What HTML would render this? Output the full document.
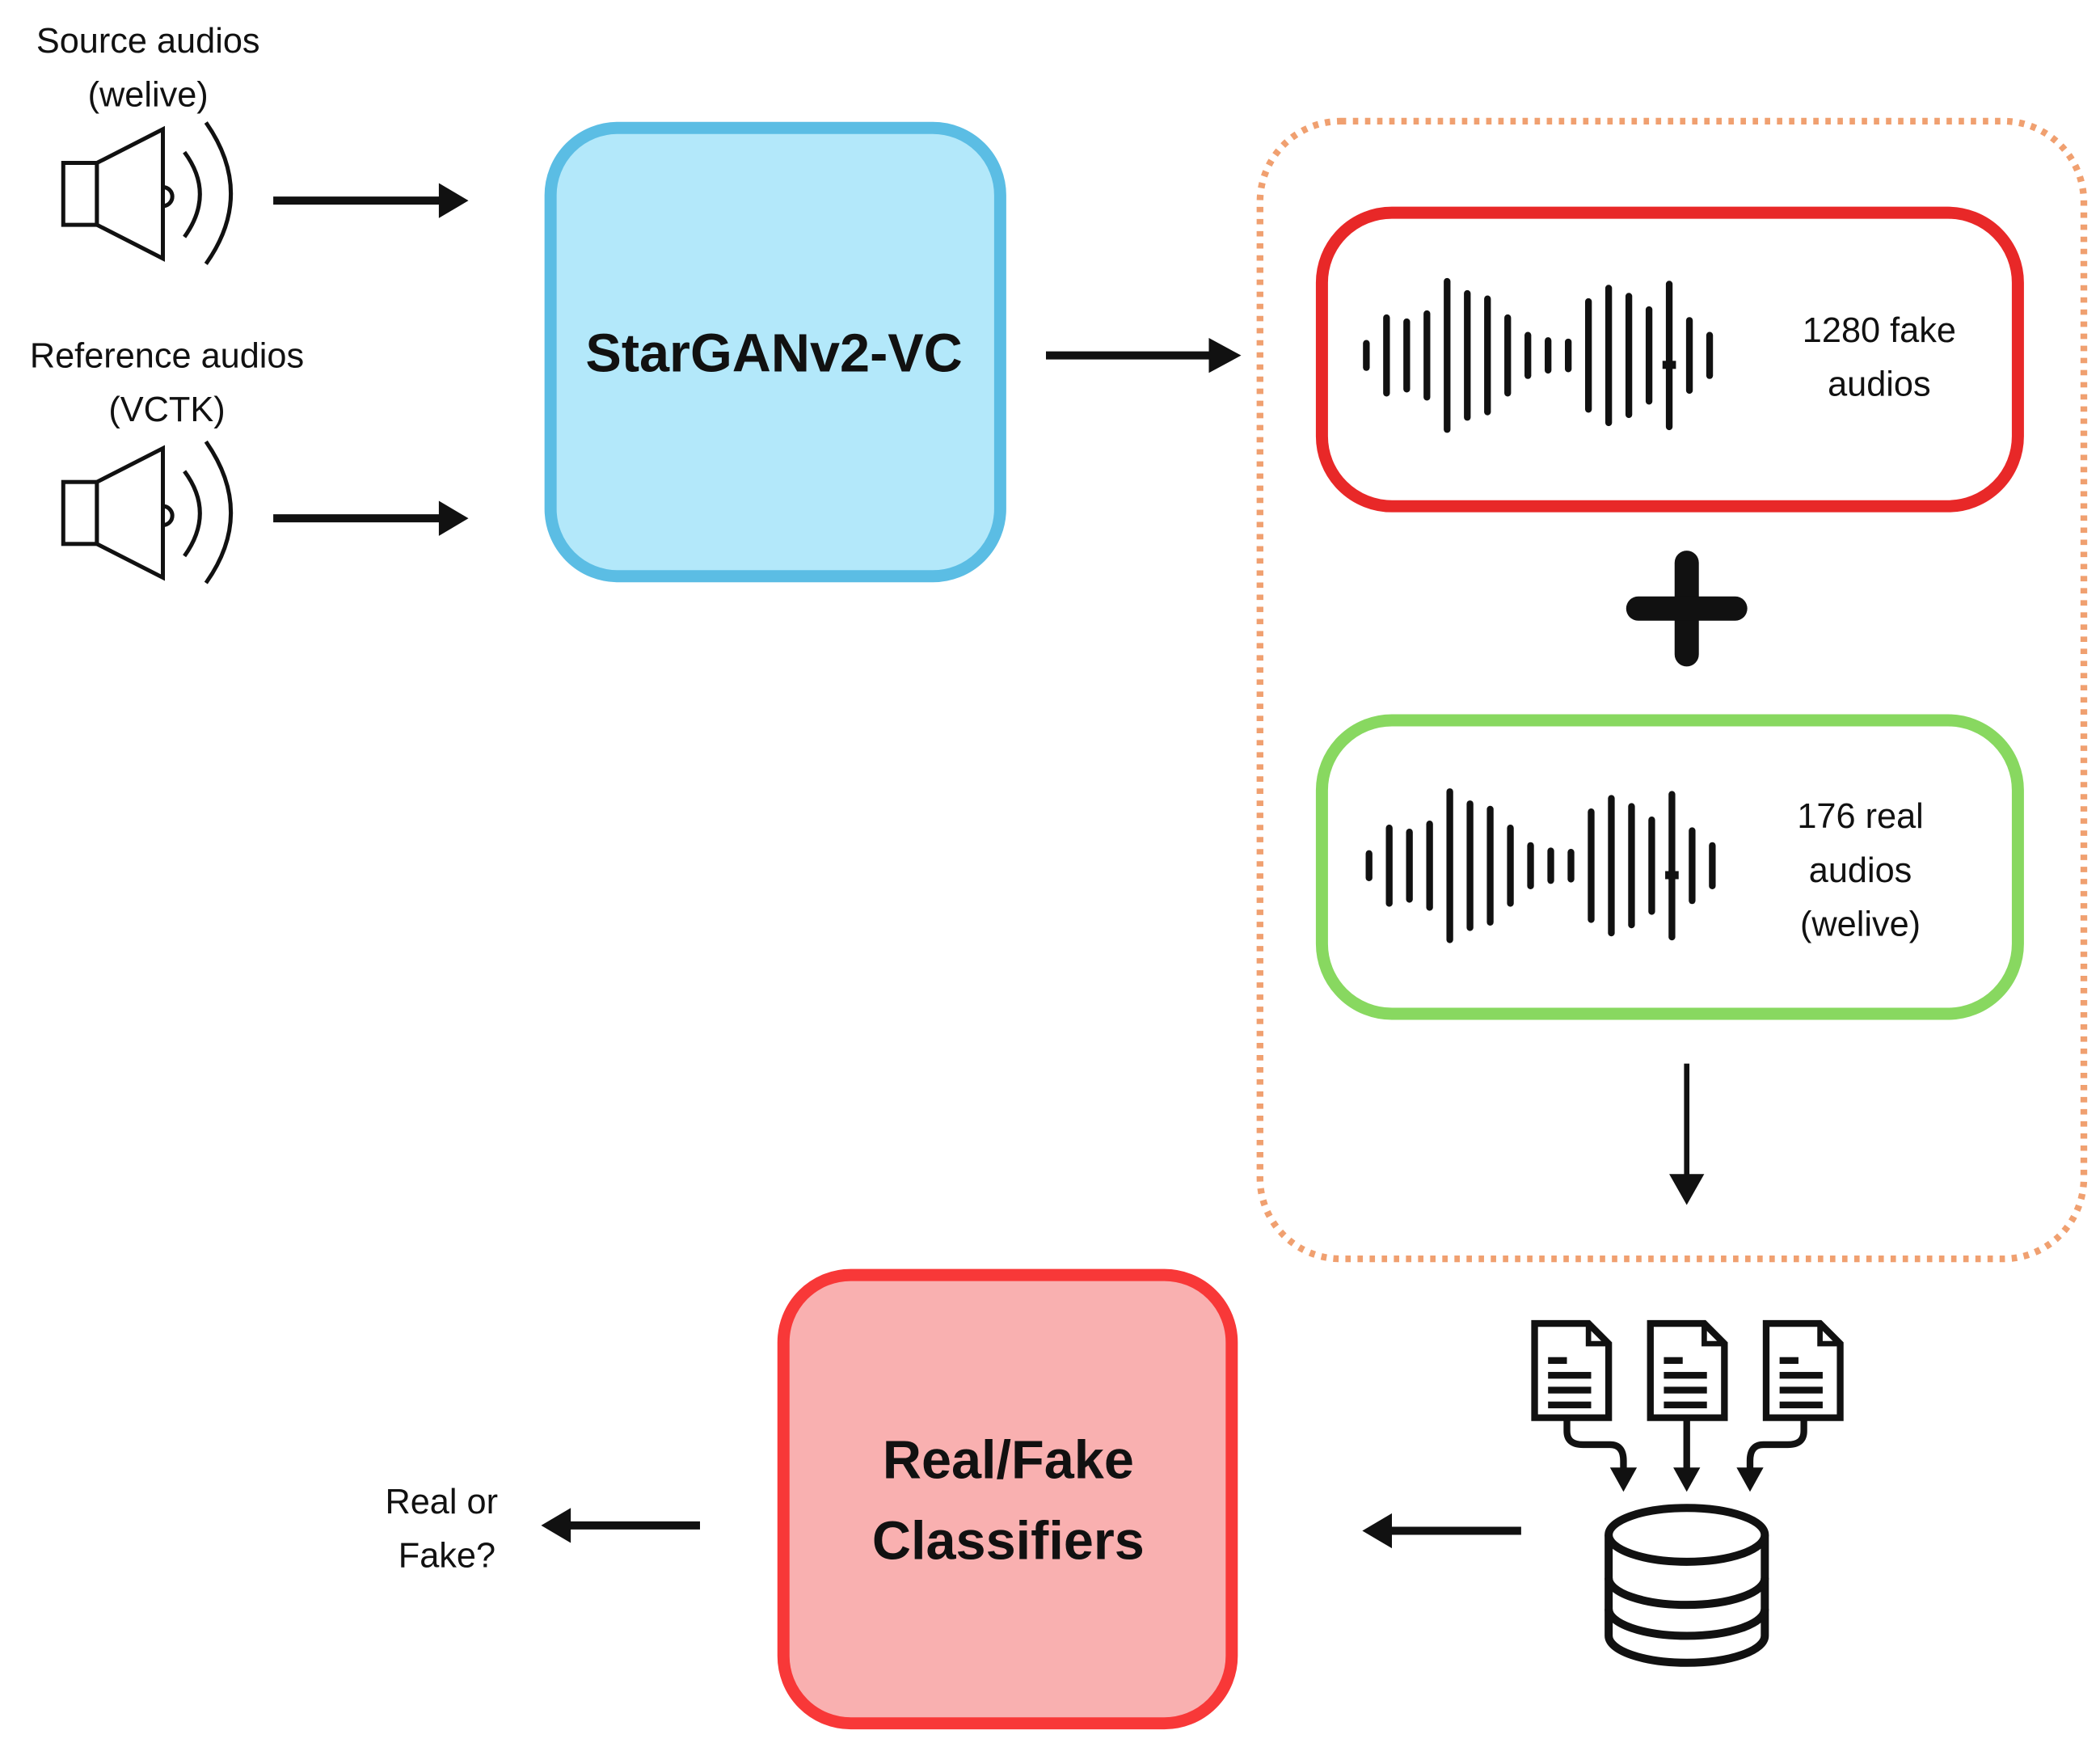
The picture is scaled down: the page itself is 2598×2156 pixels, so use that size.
<!DOCTYPE html>
<html><head><meta charset="utf-8"><style>
html,body{margin:0;padding:0;background:#fff;}
svg{display:block;}
text{font-family:"Liberation Sans",Arial,sans-serif;fill:#111;}
</style></head><body>
<svg width="2598" height="2156" viewBox="0 0 1560 1294.6" preserveAspectRatio="none" xmlns="http://www.w3.org/2000/svg">
<defs>
<g id="spk" fill="none" stroke="#111" stroke-width="3">
<rect x="47" y="-25" width="25" height="46" fill="#fff"/>
<path d="M72 -25 L121 -50 L121 46 L72 21 Z" fill="#fff"/>
<path d="M121 -7 a7 7 0 0 1 0 14"/>
<path d="M137 -33 Q160 -2 137 30"/>
<path d="M153 -55 Q190 -2 153 50"/>
</g>
<g id="wave" stroke="#111" stroke-width="5" stroke-linecap="round">
<line x1="0" y1="-9" x2="0" y2="9"/>
<line x1="15" y1="-28" x2="15" y2="28"/>
<line x1="30" y1="-25" x2="30" y2="25"/>
<line x1="45" y1="-31" x2="45" y2="31"/>
<line x1="60" y1="-55" x2="60" y2="55"/>
<line x1="75" y1="-46" x2="75" y2="46"/>
<line x1="90" y1="-42" x2="90" y2="42"/>
<line x1="105" y1="-28" x2="105" y2="28"/>
<line x1="120" y1="-15" x2="120" y2="15"/>
<line x1="135" y1="-11" x2="135" y2="11"/>
<line x1="150" y1="-10" x2="150" y2="10"/>
<line x1="165" y1="-40" x2="165" y2="40"/>
<line x1="180" y1="-50" x2="180" y2="50"/>
<line x1="195" y1="-44" x2="195" y2="44"/>
<line x1="210" y1="-34" x2="210" y2="34"/>
<line x1="225" y1="-53" x2="225" y2="53"/>
<line x1="240" y1="-26" x2="240" y2="26"/>
<line x1="255" y1="-15" x2="255" y2="15"/>
<rect x="220" y="4" width="10" height="6" fill="#111" stroke="none"/>
</g>
<g id="doc">
<path d="M0 0 H40 L55 15 V70 H0 Z" fill="#fff" stroke="#111" stroke-width="5"/>
<path d="M40 0 V15 H55" fill="none" stroke="#111" stroke-width="4"/>
<g fill="#111"><rect x="10" y="25" width="14" height="5"/><rect x="10" y="36" width="32" height="5"/><rect x="10" y="47" width="32" height="5"/><rect x="10" y="58" width="32" height="5"/></g>
</g>
</defs>

<text x="110" y="39" font-size="26" text-anchor="middle">Source audios</text>
<text x="110" y="79" font-size="26" text-anchor="middle">(welive)</text>
<use href="#spk" transform="translate(0,146)"/>
<line x1="203" y1="149" x2="330" y2="149" stroke="#111" stroke-width="6"/>
<path d="M326 136 L348 149 L326 162 Z" fill="#111"/>

<text x="124" y="273" font-size="26" text-anchor="middle">Reference audios</text>
<text x="124" y="313" font-size="26" text-anchor="middle">(VCTK)</text>
<use href="#spk" transform="translate(0,383)"/>
<line x1="203" y1="385" x2="330" y2="385" stroke="#111" stroke-width="6"/>
<path d="M326 372 L348 385 L326 398 Z" fill="#111"/>

<rect x="409" y="95" width="334" height="333" rx="50" fill="#b3e8fa" stroke="#5bbde4" stroke-width="9"/>
<text x="575" y="276" font-size="40" font-weight="bold" text-anchor="middle">StarGANv2-VC</text>
<line x1="777" y1="264" x2="902" y2="264" stroke="#111" stroke-width="6"/>
<path d="M898 251 L922 264 L898 277 Z" fill="#111"/>

<rect x="936" y="90" width="612" height="845" rx="60" fill="none" stroke="#f0a070" stroke-width="5" stroke-dasharray="4 5"/>

<rect x="982" y="158" width="517" height="218" rx="52" fill="#fff" stroke="#e82828" stroke-width="9"/>
<use href="#wave" transform="translate(1015,264)"/>
<text x="1396" y="254" font-size="26" text-anchor="middle">1280 fake</text>
<text x="1396" y="294" font-size="26" text-anchor="middle">audios</text>

<line x1="1253" y1="418" x2="1253" y2="486" stroke="#111" stroke-width="18" stroke-linecap="round"/>
<line x1="1217" y1="452" x2="1289" y2="452" stroke="#111" stroke-width="18" stroke-linecap="round"/>

<rect x="982" y="535" width="517" height="218" rx="52" fill="#fff" stroke="#88d860" stroke-width="9"/>
<use href="#wave" transform="translate(1017,643)"/>
<text x="1382" y="615" font-size="26" text-anchor="middle">176 real</text>
<text x="1382" y="655" font-size="26" text-anchor="middle">audios</text>
<text x="1382" y="695" font-size="26" text-anchor="middle">(welive)</text>

<line x1="1253" y1="790" x2="1253" y2="880" stroke="#111" stroke-width="4"/>
<path d="M1240 872 L1253 895 L1266 872 Z" fill="#111"/>

<use href="#doc" transform="translate(1140,983)"/>
<use href="#doc" transform="translate(1226,983)"/>
<use href="#doc" transform="translate(1312,983)"/>
<g fill="none" stroke="#111" stroke-width="5">
<path d="M1164 1053 V1063 Q1164 1073 1176 1073 H1196 Q1206 1073 1206 1085 V1095"/>
<path d="M1253 1053 V1095"/>
<path d="M1340 1053 V1063 Q1340 1073 1328 1073 H1310 Q1300 1073 1300 1085 V1095"/>
</g>
<g fill="#111">
<path d="M1196 1090 L1216 1090 L1206 1108 Z"/>
<path d="M1243 1090 L1263 1090 L1253 1108 Z"/>
<path d="M1290 1090 L1310 1090 L1300 1108 Z"/>
</g>
<g fill="none" stroke="#111" stroke-width="6">
<path d="M1195 1140 V1215 A58 20 0 0 0 1311 1215 V1140"/>
<ellipse cx="1253" cy="1140" rx="58" ry="20" fill="#fff"/>
<path d="M1195 1172 A58 20 0 0 0 1311 1172"/>
<path d="M1195 1195 A58 20 0 0 0 1311 1195"/>
</g>

<line x1="1130" y1="1137" x2="1030" y2="1137" stroke="#111" stroke-width="6"/>
<path d="M1034 1124 L1012 1137 L1034 1150 Z" fill="#111"/>

<rect x="582" y="947" width="333" height="333" rx="50" fill="#f9b0b0" stroke="#f83838" stroke-width="9"/>
<text x="749" y="1098" font-size="40" font-weight="bold" text-anchor="middle">Real/Fake</text>
<text x="749" y="1158" font-size="40" font-weight="bold" text-anchor="middle">Classifiers</text>

<line x1="520" y1="1133" x2="420" y2="1133" stroke="#111" stroke-width="6"/>
<path d="M424 1120 L402 1133 L424 1146 Z" fill="#111"/>
<text x="328" y="1124" font-size="26" text-anchor="middle">Real or</text>
<text x="332" y="1164" font-size="26" text-anchor="middle">Fake?</text>
</svg>
</body></html>
